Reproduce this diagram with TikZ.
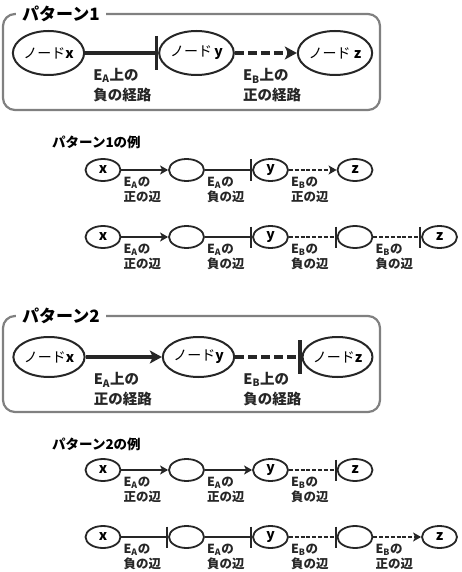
\documentclass[tikz,border=0pt]{standalone}
\usepackage{fontspec}
\setmainfont{Noto Sans CJK JP}
\usetikzlibrary{arrows.meta,shapes.geometric}
\newcommand\EA{E\textsubscript{A}}
\newcommand\EB{E\textsubscript{B}}
\tikzset{
 framebox/.style={draw=black!50, line width=2.2pt, rounded corners=12pt},
 ttl/.style={fill=white, inner xsep=6pt, inner ysep=2pt, anchor=west, font=\bfseries\fontsize{17}{19}\selectfont},
 subttl/.style={inner sep=0pt, anchor=west, font=\bfseries\fontsize{13.5}{15}\selectfont},
 bignode/.style={ellipse, draw=black!85, line width=2pt, minimum width=66pt, minimum height=44pt, inner sep=0pt, font=\fontsize{14}{16}\selectfont},
 smallnode/.style={ellipse, draw=black!85, line width=1.8pt, minimum width=35pt, minimum height=22pt, inner sep=0pt, font=\bfseries\fontsize{14}{16}\selectfont},
 bigedge/.style={draw=black!85, line width=3.2pt},
 bigdash/.style={bigedge, dash pattern=on 9pt off 4pt},
 smalledge/.style={draw=black!85, line width=1.8pt},
 smalldash/.style={smalledge, dash pattern=on 4pt off 1.8pt},
 bigact/.style={-{Stealth[length=12pt,width=13pt,inset=3pt]}},
 biginh/.style={-{Bar[width=34pt,line width=3.4pt]}},
 smallact/.style={-{Stealth[length=8pt,width=9pt,inset=2pt]}},
 smallinh/.style={-{Bar[width=21pt,line width=2pt]}},
 biglbl/.style={anchor=west, align=left, inner sep=0pt, text=black!85, font=\bfseries\fontsize{14.5}{20}\selectfont},
 smalllbl/.style={anchor=west, align=left, inner sep=0pt, text=black!85, font=\bfseries\fontsize{12.5}{15}\selectfont},
}
\begin{document}
\begin{tikzpicture}[x=1pt,y=-1pt]
\useasboundingbox (0,0) rectangle (462,572);
% ---------- Pattern 1 ----------
\draw[framebox] (3,14) rectangle (380,110);
\node[ttl] (t1) at (16,14) {パターン1};
\node[bignode] (p1x) at (48.5,53) {ノード\textbf{x}};
\node[bignode] (p1y) at (196.5,53) {ノード\,\textbf{y}};
\node[bignode] (p1z) at (335,53) {ノード \textbf{z}};
\draw[bigedge, biginh] (p1x.east) -- (p1y.west);
\draw[bigdash, bigact] (p1y.east) -- (p1z.west);
\node[biglbl] (p1la) at ([xshift=8pt,yshift=-32pt]p1x.east) {\EA 上の\\負の経路};
\node[biglbl] (p1lb) at ([xshift=8pt,yshift=-32pt]p1y.east) {\EB 上の\\正の経路};
% ---------- Pattern 1 examples ----------
\node[subttl] (t1e) at (52,142) {パターン1の例};
\node[smallnode] (a1x) at (103,170) {x};
\node[smallnode] (a1m) at (186.5,170) {};
\node[smallnode] (a1y) at (270.5,170) {y};
\node[smallnode] (a1z) at (355,170) {z};
\draw[smalledge, smallact] (a1x.east) -- (a1m.west);
\draw[smalledge, smallinh] (a1m.east) -- (a1y.west);
\draw[smalldash, smallact] (a1y.east) -- (a1z.west);
\node[smalllbl] (a1l1) at ([xshift=2pt,yshift=-19.5pt]a1x.east) {\EA の\\正の辺};
\node[smalllbl] (a1l2) at ([xshift=2pt,yshift=-19.5pt]a1m.east) {\EA の\\負の辺};
\node[smalllbl] (a1l3) at ([xshift=2pt,yshift=-19.5pt]a1y.east) {\EB の\\正の辺};
\node[smallnode] (b1x) at (103,237) {x};
\node[smallnode] (b1m) at (186.5,237) {};
\node[smallnode] (b1y) at (270.5,237) {y};
\node[smallnode] (b1n) at (355,237) {};
\node[smallnode] (b1z) at (439.5,237) {z};
\draw[smalledge, smallact] (b1x.east) -- (b1m.west);
\draw[smalledge, smallinh] (b1m.east) -- (b1y.west);
\draw[smalldash, smallinh] (b1y.east) -- (b1n.west);
\draw[smalldash, smallinh] (b1n.east) -- (b1z.west);
\node[smalllbl] (b1l1) at ([xshift=2pt,yshift=-19.5pt]b1x.east) {\EA の\\正の辺};
\node[smalllbl] (b1l2) at ([xshift=2pt,yshift=-19.5pt]b1m.east) {\EA の\\負の辺};
\node[smalllbl] (b1l3) at ([xshift=2pt,yshift=-19.5pt]b1y.east) {\EB の\\負の辺};
\node[smalllbl] (b1l4) at ([xshift=2pt,yshift=-19.5pt]b1n.east) {\EB の\\負の辺};
% ---------- Pattern 2 ----------
\draw[framebox] (3,316) rectangle (380,412);
\node[ttl] (t2) at (16,316) {パターン2};
\node[bignode, minimum height=40pt] (p2x) at (49,357) {ノード\textbf{x}};
\node[bignode, minimum height=40pt] (p2y) at (198.5,357) {ノード\textbf{y}};
\node[bignode, minimum height=40pt] (p2z) at (337.5,357) {ノード\textbf{z}};
\draw[bigedge, bigact] (p2x.east) -- (p2y.west);
\draw[bigdash, biginh] (p2y.east) -- (p2z.west);
\node[biglbl] (p2la) at ([xshift=8pt,yshift=-32pt]p2x.east) {\EA 上の\\正の経路};
\node[biglbl] (p2lb) at ([xshift=8pt,yshift=-32pt]p2y.east) {\EB 上の\\負の経路};
% ---------- Pattern 2 examples ----------
\node[subttl] (t2e) at (52,444) {パターン2の例};
\node[smallnode] (c2x) at (103,470) {x};
\node[smallnode] (c2m) at (186.5,470) {};
\node[smallnode] (c2y) at (270.5,470) {y};
\node[smallnode] (c2z) at (355,470) {z};
\draw[smalledge, smallact] (c2x.east) -- (c2m.west);
\draw[smalledge, smallact] (c2m.east) -- (c2y.west);
\draw[smalldash, smallinh] (c2y.east) -- (c2z.west);
\node[smalllbl] (c2l1) at ([xshift=2pt,yshift=-19.5pt]c2x.east) {\EA の\\正の辺};
\node[smalllbl] (c2l2) at ([xshift=2pt,yshift=-19.5pt]c2m.east) {\EA の\\正の辺};
\node[smalllbl] (c2l3) at ([xshift=2pt,yshift=-19.5pt]c2y.east) {\EB の\\負の辺};
\node[smallnode] (d2x) at (103,537) {x};
\node[smallnode] (d2m) at (186.5,537) {};
\node[smallnode] (d2y) at (270.5,537) {y};
\node[smallnode] (d2n) at (355,537) {};
\node[smallnode] (d2z) at (439.5,537) {z};
\draw[smalledge, smallinh] (d2x.east) -- (d2m.west);
\draw[smalledge, smallinh] (d2m.east) -- (d2y.west);
\draw[smalldash, smallinh] (d2y.east) -- (d2n.west);
\draw[smalldash, smallact] (d2n.east) -- (d2z.west);
\node[smalllbl] (d2l1) at ([xshift=2pt,yshift=-19.5pt]d2x.east) {\EA の\\負の辺};
\node[smalllbl] (d2l2) at ([xshift=2pt,yshift=-19.5pt]d2m.east) {\EA の\\負の辺};
\node[smalllbl] (d2l3) at ([xshift=2pt,yshift=-19.5pt]d2y.east) {\EB の\\負の辺};
\node[smalllbl] (d2l4) at ([xshift=2pt,yshift=-19.5pt]d2n.east) {\EB の\\正の辺};
\end{tikzpicture}
\end{document}
